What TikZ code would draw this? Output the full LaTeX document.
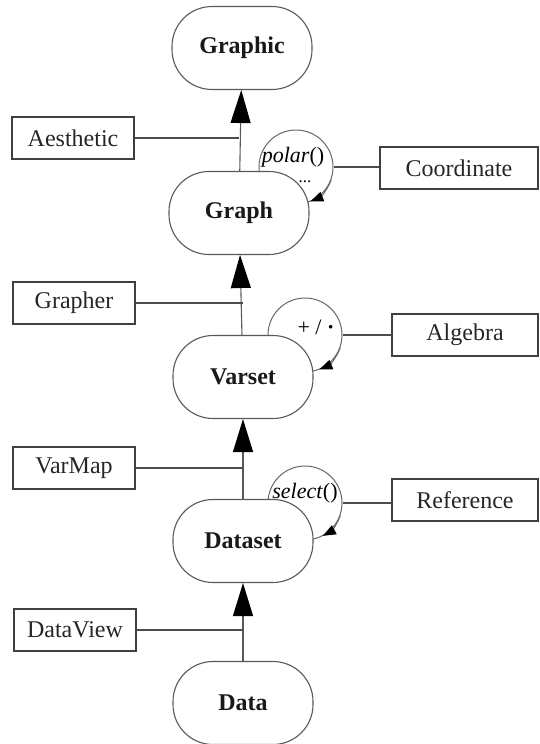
\documentclass[tikz,border=0pt]{standalone}
\usepackage{fontspec}
\setmainfont{Liberation Serif}
\usetikzlibrary{arrows.meta,positioning,calc}

\begin{document}
\begin{tikzpicture}[x=1pt,y=-1pt,>=Latex,
  stage/.style={draw=black!65,line width=1.1pt,fill=white,rounded corners=40pt,
    minimum width=140pt,minimum height=83pt,text=black!90,
    font=\fontsize{24}{28}\selectfont\bfseries},
  comp/.style={draw=black!75,line width=1.4pt,minimum width=122pt,minimum height=42pt,
    inner sep=2pt,text=black!85,font=\fontsize{24}{28}\selectfont},
  ring/.style={draw=black!60,line width=1pt,circle,minimum size=74pt,inner sep=0pt},
  selfarc/.style={draw=black!60,line width=1pt,
    -{Triangle[length=13pt,width=10pt,color=black]}},
  flow/.style={draw=black!65,line width=1.1pt,
    -{Triangle[length=33pt,width=20pt,color=black]}},
  link/.style={draw=black!70,line width=1.4pt}]
  \useasboundingbox (0,0) rectangle (539,744);

  % loops on the right of the stages
  \node[ring] (polarring) at (296,167) {};
  \draw[selfarc] (polarring.-20) arc[start angle=-20,end angle=-68,radius=37pt];
  \node[ring] (algring) at (305,335) {};
  \draw[selfarc] (algring.-20) arc[start angle=-20,end angle=-68,radius=37pt];
  \node[ring] (selring) at (305,503) {};
  \draw[selfarc] (selring.-20) arc[start angle=-20,end angle=-62,radius=37pt];

  \node[font=\fontsize{22}{26}\selectfont,inner sep=0pt] (polarlbl) at (293,157) {\textit{polar}()};
  \node[font=\fontsize{17}{20}\selectfont,inner sep=0pt] (polardots) at (305,182) {...};
  \node[font=\fontsize{22}{26}\selectfont] (algops) at (316,327) {+ / \textbf{·}};
  \node[font=\fontsize{22}{26}\selectfont] (sellbl) at (305,493) {\textit{select}()};

  % stages
  \node[stage] (graphic) at (242,48) {Graphic};
  \node[stage] (graph) at (239,213) {Graph};
  \node[stage] (varset) at (243,377) {Varset};
  \node[stage] (dataset) at (243,541) {Dataset};
  \node[stage] (data) at (243,703) {Data};

  % components
  \node[comp] (aesthetic) at (73,138) {Aesthetic};
  \node[comp] (grapher) at (74,303) {Grapher};
  \node[comp] (varmap) at (74,468) {VarMap};
  \node[comp] (dataview) at (75,630) {DataView};
  \node[comp,minimum width=158pt] (coordinate) at (459,168) {Coordinate};
  \node[comp,minimum width=146pt] (algebra) at (465,335) {Algebra};
  \node[comp,minimum width=146pt] (reference) at (465,500) {Reference};

  \draw[flow] (data) -- (dataset);
  \draw[flow] (dataset) -- (varset);
  \draw[flow] (varset) -- (graph);
  \draw[flow] (graph) -- (graphic);

  \draw[link] (aesthetic.east) -- (aesthetic.east -| graph.north);
  \draw[link] (grapher.east) -- (grapher.east -| varset.north);
  \draw[link] (varmap.east) -- (varmap.east -| dataset.north);
  \draw[link] (dataview.east) -- (dataview.east -| data.north);

  \draw[link] (polarring.east) -- (polarring.east -| coordinate.west);
  \draw[link] (algring.east) -- (algring.east -| algebra.west);
  \draw[link] (selring.east) -- (selring.east -| reference.west);
\end{tikzpicture}
\end{document}
